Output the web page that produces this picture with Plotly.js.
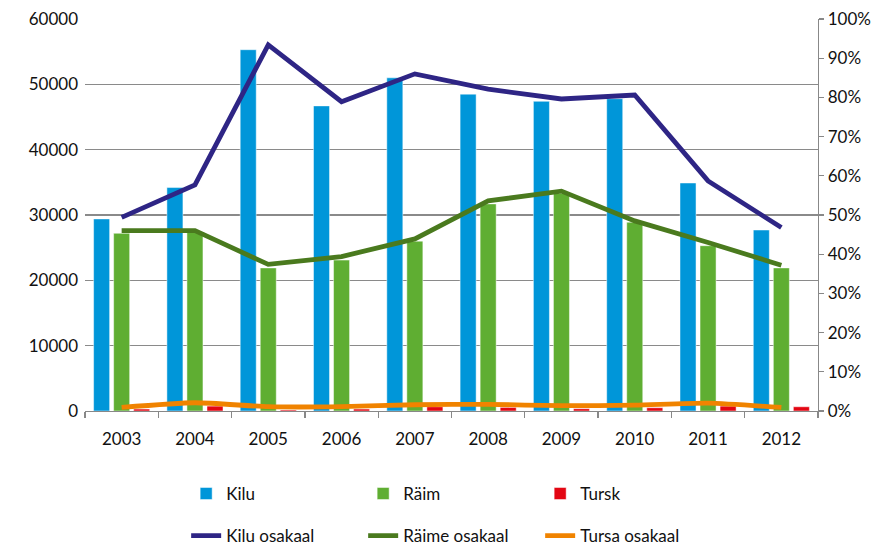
<!DOCTYPE html>
<html>
<head>
<meta charset="utf-8">
<script src="https://cdn.plot.ly/plotly-3.0.1.min.js"></script>
<style>html,body{margin:0;padding:0;background:#fff;}#chart{width:889px;height:547px;}</style>
</head>
<body>
<div id="chart"></div>
<script>
const years = ['2003','2004','2005','2006','2007','2008','2009','2010','2011','2012'];
const kilu = [29400, 34200, 55300, 46700, 51000, 48500, 47400, 47800, 34900, 27700];
const raim = [27200, 27400, 21900, 23100, 26000, 31700, 33300, 28900, 25300, 21900];
const tursk = [300, 750, 150, 300, 650, 550, 350, 500, 750, 650];
const kiluOsa = [0.494, 0.577, 0.934, 0.789, 0.860, 0.821, 0.796, 0.806, 0.587, 0.468];
const raimeOsa = [0.460, 0.460, 0.374, 0.394, 0.439, 0.536, 0.561, 0.485, 0.430, 0.372];
const tursaOsa = [0.009, 0.021, 0.011, 0.011, 0.016, 0.017, 0.0135, 0.015, 0.020, 0.009];

const fontFam = 'Lato, "Open Sans", sans-serif';
const barLine = {color: 'rgba(255,255,255,0.6)', width: 0.8};

const traces = [
  {type:'bar', name:'Kilu', x:years, y:kilu, marker:{color:'#0096d9', line:barLine}, legend:'legend'},
  {type:'bar', name:'Räim', x:years, y:raim, marker:{color:'#5fae32', line:barLine}, legend:'legend'},
  {type:'bar', name:'Tursk', x:years, y:tursk, marker:{color:'#e30613', line:barLine}, legend:'legend'},
  {type:'scatter', mode:'lines', name:'Kilu osakaal', x:years, y:kiluOsa, yaxis:'y2', line:{color:'#2e2585', width:4.8}, legend:'legend2'},
  {type:'scatter', mode:'lines', name:'Räime osakaal', x:years, y:raimeOsa, yaxis:'y2', line:{color:'#4a7a1e', width:4.8}, legend:'legend2'},
  {type:'scatter', mode:'lines', name:'Tursa osakaal', x:years, y:tursaOsa, yaxis:'y2', line:{color:'#f08300', width:4.8, shape:'spline', smoothing:0.6}, legend:'legend2'}
];

const legendCommon = {
  orientation:'h', xanchor:'left', yanchor:'middle',
  font:{family:fontFam, size:17, color:'#111'},
  entrywidth:132, entrywidthmode:'pixels',
  bgcolor:'rgba(0,0,0,0)', traceorder:'normal', itemwidth:30
};

const layout = {
  width:889, height:547,
  margin:{l:85, r:71, t:19, b:136, autoexpand:false},
  paper_bgcolor:'#fff', plot_bgcolor:'#fff',
  font:{family:fontFam, size:17, color:'#111'},
  barmode:'group', bargap:0.18, bargroupgap:0.2,
  showlegend:true,
  xaxis:{
    type:'category', showgrid:false, showline:true, linecolor:'#888', linewidth:1.3,
    ticks:'outside', tickson:'boundaries', ticklen:6, tickcolor:'#888', tickwidth:1.3,
    tickfont:{family:fontFam, size:17, color:'#111'}, ticklabelstandoff:12
  },
  yaxis:{
    range:[0,60000], dtick:10000, tickformat:'d', showgrid:true, gridcolor:'#8a8a8a', gridwidth:1.3,
    zeroline:false, showline:false, ticks:'', tickfont:{family:fontFam, size:17, color:'#111'},
    ticklabelstandoff:6
  },
  yaxis2:{
    range:[0,1], dtick:0.1, tickformat:'.0%', overlaying:'y', side:'right', showgrid:false,
    zeroline:false, showline:true, linecolor:'#888', linewidth:1.3, ticks:'outside', ticklen:5,
    tickcolor:'#888', tickwidth:1.3, tickfont:{family:fontFam, size:17, color:'#111'}
  },
  legend: Object.assign({}, legendCommon, {x:0.138, y:0.097, yref:'container'}),
  legend2: Object.assign({}, legendCommon, {x:0.138, y:0.02, yref:'container'})
};

Plotly.newPlot('chart', traces, layout, {displayModeBar:false, staticPlot:true});
</script>
</body>
</html>
